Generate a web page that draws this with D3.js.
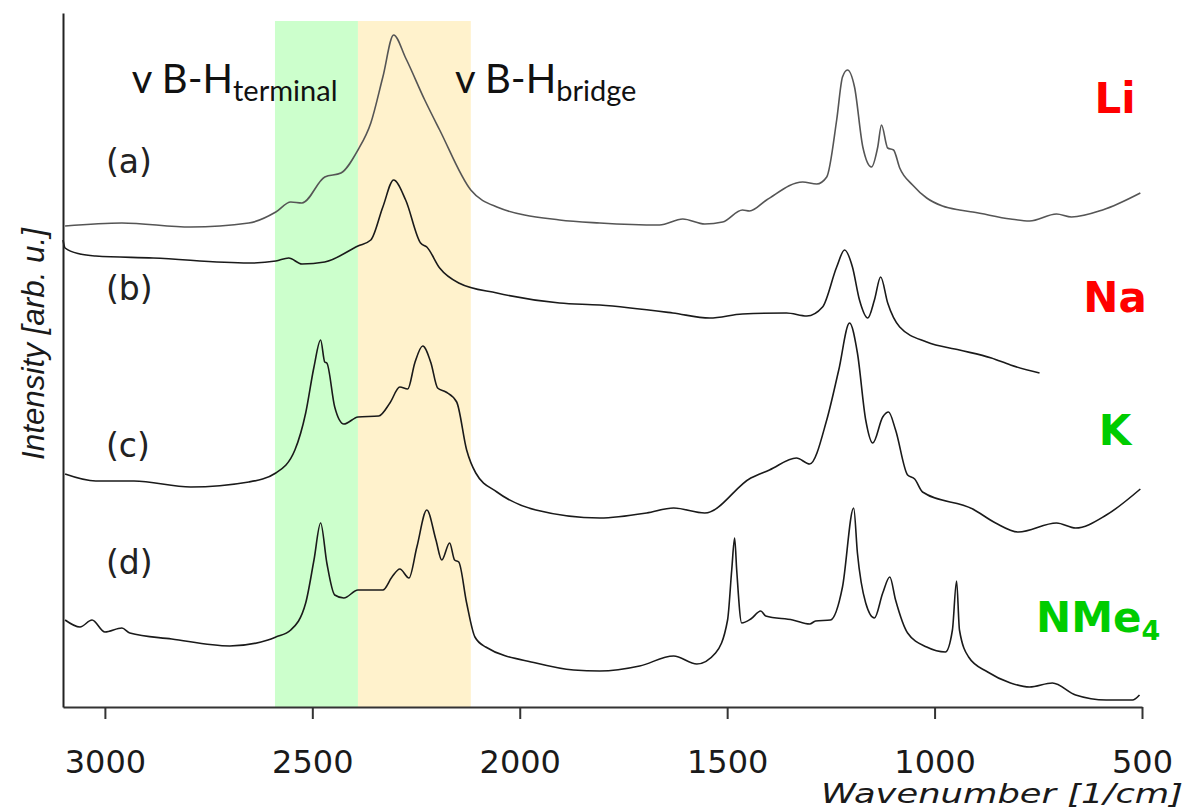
<!DOCTYPE html>
<html>
<head>
<meta charset="utf-8">
<script src="https://cdn.jsdelivr.net/npm/d3@7"></script>
<style>
  body { margin: 0; background: #fff; }
  svg { display: block; }
</style>
</head>
<body>
<svg width="1191" height="812"></svg>
<script>
// wavenumber [1/cm], intensity [arb. u.]
const liSpectrum = [
  [3096, 481], [2959, 484], [2793, 480], [2653, 484], [2588, 495], [2552, 505], [2525, 504],
  [2470, 530], [2431, 534], [2390, 557], [2359, 584], [2330, 630], [2304, 672], [2275, 649],
  [2229, 607], [2193, 577], [2118, 517], [2055, 500], [1904, 487], [1807, 484], [1663, 482],
  [1607, 488], [1554, 483], [1511, 485], [1463, 497], [1446, 496], [1405, 507], [1318, 525],
  [1284, 523], [1260, 530], [1236, 587], [1222, 630], [1210, 637], [1193, 620], [1173, 560],
  [1152, 540], [1137, 560], [1128, 582], [1113, 559], [1099, 557], [1084, 539], [1053, 522],
  [1019, 509], [981, 501], [940, 497], [908, 495], [817, 488], [771, 486], [706, 493],
  [670, 490], [595, 497], [504, 514]
];

const naSpectrum = [
  [3101, 467], [3096, 459], [3060, 453], [3022, 451], [2884, 449], [2653, 444], [2588, 446],
  [2557, 449], [2525, 443], [2470, 445], [2390, 461], [2359, 467], [2330, 500], [2304, 527],
  [2275, 507], [2239, 464], [2224, 460], [2193, 439], [2147, 424], [2055, 414], [1904, 404],
  [1807, 402], [1631, 394], [1542, 389], [1463, 393], [1357, 394], [1308, 391], [1270, 400],
  [1236, 440], [1217, 457], [1198, 440], [1181, 407], [1161, 389], [1145, 407], [1130, 430],
  [1113, 404], [1084, 380], [1019, 365], [940, 357], [863, 349], [817, 342], [747, 334]
];

const kSpectrum = [
  [3096, 233], [3022, 226], [2930, 226], [2793, 220], [2653, 225], [2588, 234], [2542, 257],
  [2516, 294], [2496, 340], [2480, 367], [2470, 345], [2465, 344], [2446, 300], [2424, 283],
  [2390, 290], [2340, 291], [2313, 304], [2289, 320], [2270, 318], [2253, 344], [2234, 361],
  [2214, 344], [2198, 319], [2178, 315], [2152, 305], [2128, 257], [2106, 234], [2055, 215],
  [1961, 197], [1807, 189], [1694, 194], [1629, 199], [1554, 194], [1443, 229], [1398, 237],
  [1333, 249], [1301, 243], [1260, 287], [1231, 337], [1205, 384], [1186, 354], [1166, 287],
  [1149, 264], [1125, 290], [1111, 295], [1094, 277], [1065, 232], [1048, 228], [1029, 215],
  [908, 198], [853, 184], [798, 175], [706, 184], [660, 179], [586, 192], [504, 218]
];

const nme4Spectrum = [
  [3096, 87], [3060, 80], [3031, 87], [3000, 75], [2959, 79], [2940, 74], [2839, 68],
  [2699, 61], [2607, 67], [2588, 70], [2552, 77], [2516, 104], [2496, 147], [2480, 184],
  [2465, 144], [2446, 112], [2424, 109], [2390, 117], [2330, 117], [2308, 130], [2289, 138],
  [2267, 129], [2248, 160], [2224, 197], [2202, 167], [2188, 147], [2169, 164], [2157, 147],
  [2147, 145], [2128, 104], [2108, 70], [2082, 60], [1961, 44], [1870, 37], [1807, 36],
  [1711, 41], [1629, 51], [1573, 43], [1528, 54], [1499, 87], [1489, 137], [1482, 169],
  [1477, 137], [1465, 84], [1443, 88], [1419, 96], [1407, 91], [1342, 87], [1301, 83],
  [1287, 86], [1251, 87], [1222, 120], [1195, 199], [1186, 154], [1166, 104], [1145, 89],
  [1125, 114], [1108, 130], [1094, 107], [1065, 74], [1019, 60], [974, 55], [957, 77],
  [947, 126], [940, 77], [918, 50], [872, 35], [817, 24], [771, 20], [716, 24], [660, 12],
  [586, 7], [523, 7], [506, 12]
];

const spectra = [liSpectrum, naSpectrum, kSpectrum, nme4Spectrum];
const traceLabels = ["(a)", "(b)", "(c)", "(d)"];
const traceLabelLevels = [534, 407, 250, 133];
const cations = ["Li", "Na", "K", "NMe"];
const cationLevels = [594, 395, 262, 75];
const cationColors = ["#ff0000", "#ff0000", "#00cc00", "#00cc00"];
const traceColors = ["#555", "#1a1a1a", "#1a1a1a", "#1a1a1a"];

const bandRanges = [[2590, 2390], [2390, 2118]];
const bandColors = ["#ccffcc", "#fff2cc"];
const bandNames = ["terminal", "bridge"];
const bandLabelStart = [2935, 2156];

const xTicks = [3000, 2500, 2000, 1500, 1000, 500];

const svg = d3.select("svg");

const x = d3.scaleLinear().domain([3101, 500]).range([63, 1142]);
const y = d3.scaleLinear().domain([0, 694]).range([707, 13]);

// highlighted B-H stretching regions
svg.selectAll(".band")
  .data(bandRanges)
  .enter()
  .append("rect")
  .attr("class", "band")
  .attr("x", d => x(d[0]))
  .attr("width", d => x(d[1]) - x(d[0]))
  .attr("y", y(686))
  .attr("height", y(0) - y(686))
  .attr("fill", (d, i) => bandColors[i]);

const line = d3.line()
  .x(d => x(d[0]))
  .y(d => y(d[1]))
  .curve(d3.curveMonotoneX);

svg.selectAll(".trace")
  .data(spectra)
  .enter()
  .append("path")
  .attr("class", "trace")
  .attr("d", line)
  .attr("fill", "none")
  .attr("stroke", (d, i) => traceColors[i])
  .attr("stroke-width", 1.6)
  .attr("stroke-linejoin", "round");

// axes
const xAxis = svg.append("g")
  .attr("transform", `translate(0,${y(0)})`)
  .call(d3.axisBottom(x).tickValues(xTicks).tickSize(12).tickSizeOuter(0).tickPadding(31).tickFormat(d3.format("d")));
xAxis.select(".domain").attr("stroke", "#333").attr("stroke-width", 2);
xAxis.selectAll(".tick line").attr("stroke", "#333").attr("stroke-width", 2);
xAxis.selectAll(".tick text")
  .attr("fill", "#1a1a1a")
  .style("font-family", "DejaVu Sans, Verdana, sans-serif")
  .style("font-size", "32px");

const yAxis = svg.append("g")
  .attr("transform", `translate(${x(3101)},0)`)
  .call(d3.axisLeft(y).tickValues([]).tickSizeOuter(0));
yAxis.select(".domain").attr("stroke", "#222").attr("stroke-width", 2);

svg.append("text")
  .attr("x", 1183)
  .attr("y", 803)
  .attr("text-anchor", "end")
  .attr("textLength", 362)
  .attr("lengthAdjust", "spacingAndGlyphs")
  .style("font-family", "DejaVu Sans, Verdana, sans-serif")
  .style("font-style", "italic")
  .style("font-size", "27px")
  .attr("fill", "#1a1a1a")
  .text("Wavenumber [1/cm]");

svg.append("text")
  .attr("transform", "translate(44,344) rotate(-90)")
  .attr("text-anchor", "middle")
  .attr("textLength", 232)
  .attr("lengthAdjust", "spacingAndGlyphs")
  .style("font-family", "Liberation Sans, Arial, sans-serif")
  .style("font-style", "italic")
  .style("font-size", "31px")
  .attr("fill", "#1a1a1a")
  .text("Intensity [arb. u.]");

// band labels
const bandText = svg.selectAll(".bandlabel")
  .data(bandNames)
  .enter()
  .append("text")
  .attr("class", "bandlabel")
  .attr("x", (d, i) => x(bandLabelStart[i]))
  .attr("y", 93)
  .style("font-family", "Lato, Open Sans, sans-serif")
  .style("font-size", "40px")
  .attr("fill", "#111");
bandText.append("tspan").text("v B-H");
bandText.append("tspan")
  .attr("dy", 8)
  .style("font-size", "29px")
  .text(d => d);

// trace labels (a)-(d)
svg.selectAll(".tracelabel")
  .data(traceLabels)
  .enter()
  .append("text")
  .attr("class", "tracelabel")
  .attr("x", 106)
  .attr("y", (d, i) => y(traceLabelLevels[i]))
  .style("font-family", "DejaVu Sans, Verdana, sans-serif")
  .style("font-size", "33px")
  .attr("fill", "#222")
  .text(d => d);

// cation labels
const cationText = svg.selectAll(".cation")
  .data(cations)
  .enter()
  .append("text")
  .attr("class", "cation")
  .attr("x", (d, i) => i === 3 ? 1036 : 1115)
  .attr("y", (d, i) => y(cationLevels[i]))
  .attr("text-anchor", (d, i) => i === 3 ? "start" : "middle")
  .style("font-family", "DejaVu Sans, Verdana, sans-serif")
  .style("font-weight", "bold")
  .style("font-size", "42px")
  .attr("fill", (d, i) => cationColors[i]);
cationText.append("tspan").text(d => d);
cationText.filter((d, i) => i === 3)
  .append("tspan")
  .attr("dy", 8)
  .style("font-size", "27px")
  .text("4");
</script>
</body>
</html>
